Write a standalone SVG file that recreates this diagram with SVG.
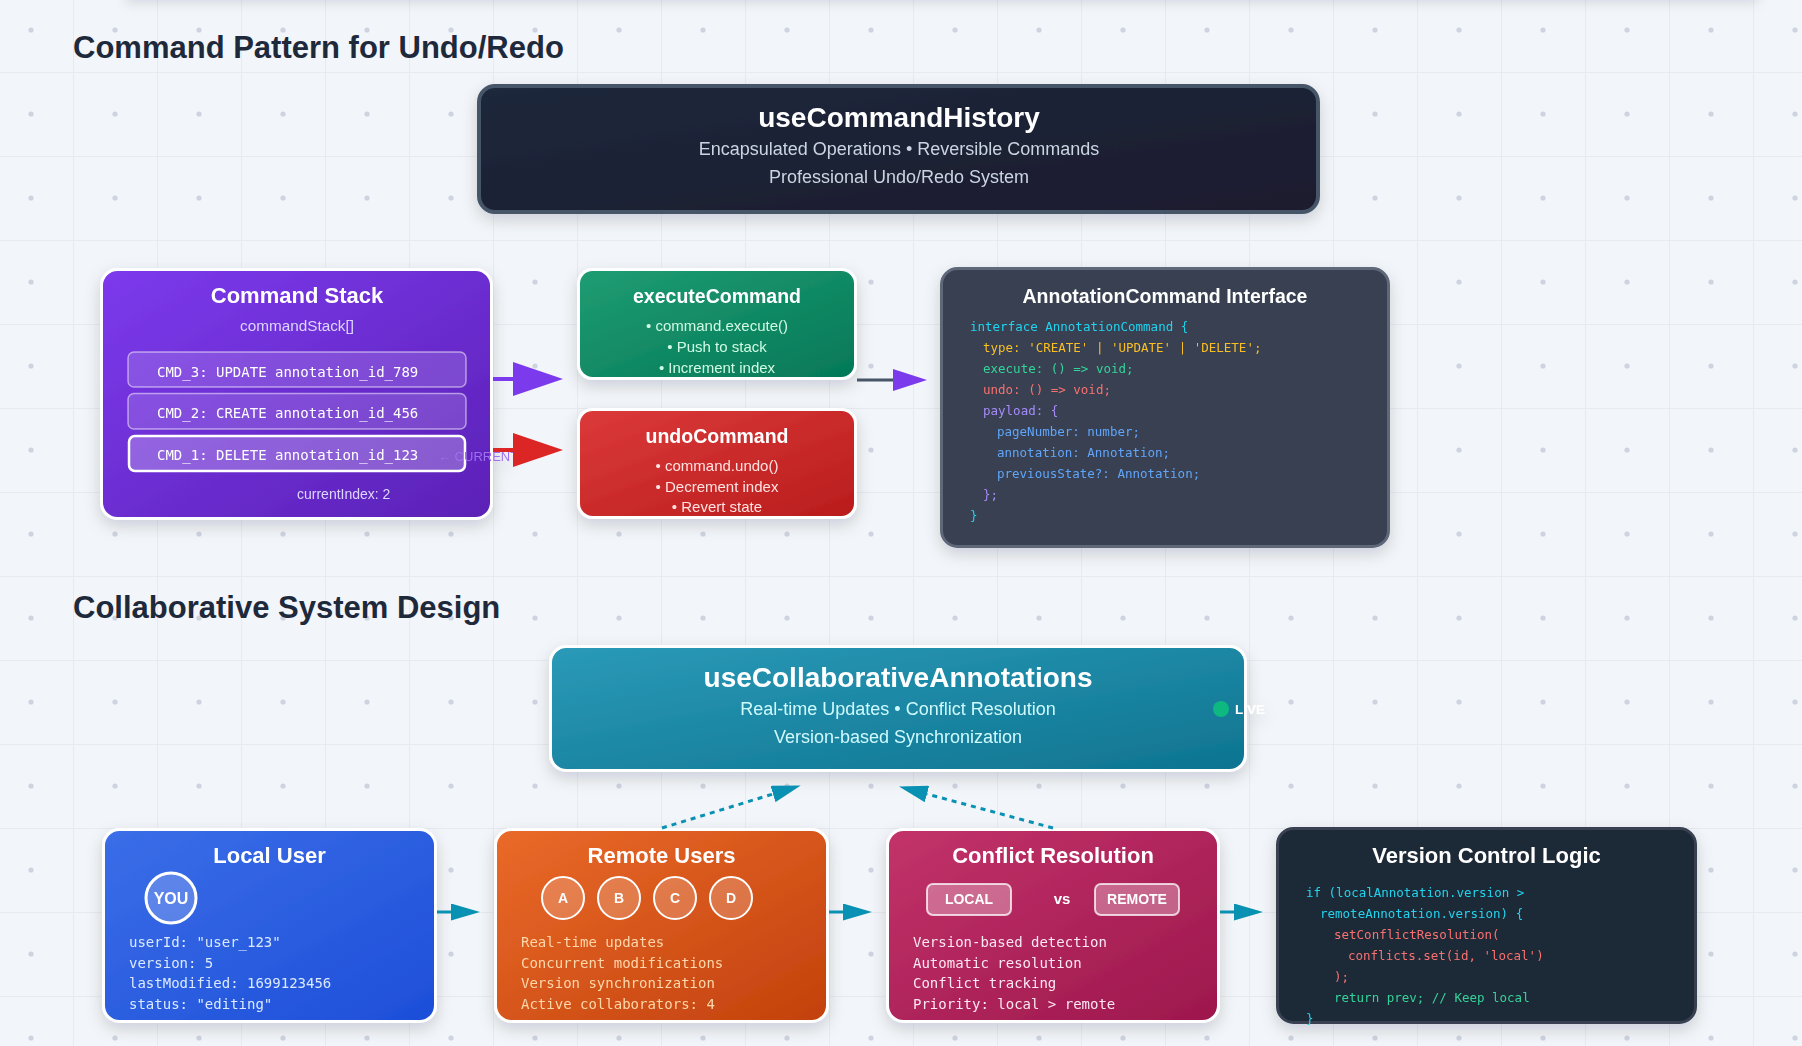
<svg xmlns="http://www.w3.org/2000/svg" width="1802" height="1046" viewBox="0 0 1802 1046">
<defs>
<style>
.sans{font-family:"Liberation Sans",Arial,Helvetica,sans-serif}
.mono{font-family:"DejaVu Sans Mono","Liberation Mono",monospace}
.sec{font-family:"Liberation Sans",Arial,sans-serif;font-size:31px;font-weight:700;fill:#1e293b}
.htitle{font-family:"Liberation Sans",Arial,sans-serif;font-size:28px;font-weight:700;fill:#ffffff;text-anchor:middle}
.hsub{font-family:"Liberation Sans",Arial,sans-serif;font-size:18px;text-anchor:middle}
.ntitle{font-family:"Liberation Sans",Arial,sans-serif;font-size:22px;font-weight:700;fill:#ffffff;text-anchor:middle}
.stitle{font-family:"Liberation Sans",Arial,sans-serif;font-size:19.5px;font-weight:700;fill:#ffffff;text-anchor:middle}
.bullet{font-family:"Liberation Sans",Arial,sans-serif;font-size:15px;text-anchor:middle}
.code{font-family:"DejaVu Sans Mono","Liberation Mono",monospace;font-size:12.5px}
.info{font-family:"DejaVu Sans Mono","Liberation Mono",monospace;font-size:14px}
.row{fill:rgba(255,255,255,0.15);stroke:rgba(255,255,255,0.5);stroke-width:1.5}
.rowtxt{font-family:"DejaVu Sans Mono","Liberation Mono",monospace;font-size:14px;fill:#ffffff}
.avatar{fill:rgba(255,255,255,0.2);stroke:#ffffff;stroke-width:2}
.avtxt{font-family:"Liberation Sans",Arial,sans-serif;font-size:14px;font-weight:700;fill:#ffffff;text-anchor:middle}
.tag{fill:rgba(255,255,255,0.3);stroke:rgba(255,255,255,0.75);stroke-width:2}
.wb{stroke:#ffffff;stroke-width:3}
.teal{stroke:#0891b2;stroke-width:3;fill:none}
</style>
<pattern id="grid" x="-11" y="-12" width="84" height="84" patternUnits="userSpaceOnUse">
<path d="M0.5,0 V84 M0,0.5 H84" stroke="#e7ebf1" stroke-width="1" fill="none"/>
<circle cx="42" cy="42" r="2.6" fill="#cdd4e0"/>
</pattern>
<filter id="shadow" x="-20%" y="-20%" width="140%" height="150%">
<feDropShadow dx="0" dy="6" stdDeviation="8" flood-color="#0f172a" flood-opacity="0.16"/>
</filter>
<filter id="topsh" x="-10%" y="-100%" width="120%" height="400%">
<feDropShadow dx="0" dy="3" stdDeviation="6" flood-color="#0f172a" flood-opacity="0.12"/>
</filter>
<linearGradient id="gHead" x1="0" y1="0" x2="1" y2="1"><stop offset="0" stop-color="#1e293b"/><stop offset="1" stop-color="#1a1a2e"/></linearGradient>
<linearGradient id="gPurple" x1="0" y1="0" x2="1" y2="1"><stop offset="0" stop-color="#7c3aed"/><stop offset="1" stop-color="#5b21b6"/></linearGradient>
<linearGradient id="gGreen" x1="0" y1="0" x2="1" y2="1"><stop offset="0" stop-color="#1f9d72"/><stop offset="1" stop-color="#047857"/></linearGradient>
<linearGradient id="gRed" x1="0" y1="0" x2="1" y2="1"><stop offset="0" stop-color="#dc3a3a"/><stop offset="1" stop-color="#b91c1c"/></linearGradient>
<linearGradient id="gTeal" x1="0" y1="0" x2="1" y2="1"><stop offset="0" stop-color="#2a9ab8"/><stop offset="1" stop-color="#0e7490"/></linearGradient>
<linearGradient id="gBlue" x1="0" y1="0" x2="1" y2="1"><stop offset="0" stop-color="#3b6ee8"/><stop offset="1" stop-color="#1d4ed8"/></linearGradient>
<linearGradient id="gOrange" x1="0" y1="0" x2="1" y2="1"><stop offset="0" stop-color="#ea6a2a"/><stop offset="1" stop-color="#c2410c"/></linearGradient>
<linearGradient id="gPink" x1="0" y1="0" x2="1" y2="1"><stop offset="0" stop-color="#c2336a"/><stop offset="1" stop-color="#9d174d"/></linearGradient>
<marker id="mPurple" markerUnits="userSpaceOnUse" markerWidth="50" markerHeight="34" refX="0" refY="17" orient="auto"><path d="M0,0 L50,17 L0,34 z" fill="#7c3aed"/></marker>
<marker id="mRed" markerUnits="userSpaceOnUse" markerWidth="50" markerHeight="34" refX="0" refY="17" orient="auto"><path d="M0,0 L50,17 L0,34 z" fill="#dc2626"/></marker>
<marker id="mPurpleS" markerUnits="userSpaceOnUse" markerWidth="34" markerHeight="22" refX="0" refY="11" orient="auto"><path d="M0,0 L34,11 L0,22 z" fill="#7c3aed"/></marker>
<marker id="mTeal" markerUnits="userSpaceOnUse" markerWidth="29" markerHeight="17" refX="0" refY="8.5" orient="auto"><path d="M0,0 L29,8.5 L0,17 z" fill="#0891b2"/></marker>
</defs>

<rect x="0" y="0" width="1802" height="1046" fill="#f2f5f9"/>
<rect x="0" y="0" width="1802" height="1046" fill="url(#grid)"/>
<rect x="126" y="-40" width="1632" height="40" fill="#f2f5f9" filter="url(#topsh)"/>

<text class="sec" x="73" y="58">Command Pattern for Undo/Redo</text>
<text class="sec" x="73" y="618">Collaborative System Design</text>

<g id="useCommandHistory" filter="url(#shadow)">
<rect x="479" y="86" width="839" height="126" rx="16" fill="url(#gHead)" stroke="#475569" stroke-width="4"/>
<text class="htitle" x="899" y="127">useCommandHistory</text>
<text class="hsub" x="899" y="155" fill="#cbd5e1">Encapsulated Operations • Reversible Commands</text>
<text class="hsub" x="899" y="183" fill="#cbd5e1">Professional Undo/Redo System</text>
</g>

<g id="commandStack" filter="url(#shadow)">
<rect x="101.5" y="269.5" width="390" height="249" rx="16" fill="url(#gPurple)" class="wb"/>
<text class="ntitle" x="297" y="303">Command Stack</text>
<text class="sans" x="297" y="331" font-size="15.3" fill="#ddd6fe" text-anchor="middle">commandStack[]</text>
<rect class="row" x="128" y="352" width="338" height="35" rx="6"/>
<text class="rowtxt" x="157" y="377">CMD_3: UPDATE annotation_id_789</text>
<rect class="row" x="128" y="393.5" width="338" height="35.5" rx="6"/>
<text class="rowtxt" x="157" y="418">CMD_2: CREATE annotation_id_456</text>
<rect x="129" y="436" width="336" height="35" rx="6" fill="rgba(255,255,255,0.25)" stroke="#ffffff" stroke-width="2.5"/>
<text class="rowtxt" x="157" y="460">CMD_1: DELETE annotation_id_123</text>
<text class="sans" x="438" y="461" font-size="13" fill="#9f6ff0">← CURRENT</text>
<text class="sans" x="297" y="499" font-size="14" fill="#ddd6fe">currentIndex: 2</text>
</g>

<g id="executeCommand" filter="url(#shadow)">
<rect x="578.5" y="269.5" width="277" height="109" rx="14" fill="url(#gGreen)" class="wb"/>
<text class="stitle" x="717" y="303">executeCommand</text>
<text class="bullet" x="717" y="331" fill="#d1fae5">• command.execute()</text>
<text class="bullet" x="717" y="352" fill="#d1fae5">• Push to stack</text>
<text class="bullet" x="717" y="373" fill="#d1fae5">• Increment index</text>
</g>

<g id="undoCommand" filter="url(#shadow)">
<rect x="578.5" y="409.5" width="277" height="108" rx="14" fill="url(#gRed)" class="wb"/>
<text class="stitle" x="717" y="443">undoCommand</text>
<text class="bullet" x="717" y="471" fill="#fee2e2">• command.undo()</text>
<text class="bullet" x="717" y="492" fill="#fee2e2">• Decrement index</text>
<text class="bullet" x="717" y="512" fill="#fee2e2">• Revert state</text>
</g>

<g id="annotationCommandInterface" filter="url(#shadow)">
<rect x="941.5" y="268.5" width="447" height="278" rx="16" fill="#374151" stroke="#5f6878" stroke-width="3"/>
<text class="stitle" x="1165" y="303">AnnotationCommand Interface</text>
<text class="code" x="970" y="331" fill="#22d3ee">interface AnnotationCommand {</text>
<text class="code" x="983" y="352" fill="#fbbf24">type: 'CREATE' | 'UPDATE' | 'DELETE';</text>
<text class="code" x="983" y="373" fill="#34d399">execute: () =&gt; void;</text>
<text class="code" x="983" y="394" fill="#f87171">undo: () =&gt; void;</text>
<text class="code" x="983" y="415" fill="#a78bfa">payload: {</text>
<text class="code" x="997" y="436" fill="#60a5fa">pageNumber: number;</text>
<text class="code" x="997" y="457" fill="#60a5fa">annotation: Annotation;</text>
<text class="code" x="997" y="478" fill="#60a5fa">previousState?: Annotation;</text>
<text class="code" x="983" y="499" fill="#a78bfa">};</text>
<text class="code" x="970" y="520" fill="#22d3ee">}</text>
</g>

<g id="useCollaborativeAnnotations" filter="url(#shadow)">
<rect x="550.5" y="646.5" width="695" height="124" rx="16" fill="url(#gTeal)" class="wb"/>
<text class="htitle" x="898" y="687">useCollaborativeAnnotations</text>
<text class="hsub" x="898" y="715" fill="#cffafe">Real-time Updates • Conflict Resolution</text>
<text class="hsub" x="898" y="743" fill="#cffafe">Version-based Synchronization</text>
<circle cx="1221" cy="709" r="8" fill="#10b981"/>
<text class="sans" x="1235" y="714" font-size="13.5" font-weight="700" fill="#ffffff">LIVE</text>
</g>

<g id="localUser" filter="url(#shadow)">
<rect x="103.5" y="829.5" width="332" height="192" rx="16" fill="url(#gBlue)" class="wb"/>
<text class="ntitle" x="269.5" y="863">Local User</text>
<circle cx="171" cy="898" r="25" fill="rgba(255,255,255,0.2)" stroke="#ffffff" stroke-width="3"/>
<text class="sans" x="171" y="904" font-size="16" font-weight="700" fill="#ffffff" text-anchor="middle">YOU</text>
<text class="info" x="129" y="947" fill="#dbeafe">userId: "user_123"</text>
<text class="info" x="129" y="968" fill="#dbeafe">version: 5</text>
<text class="info" x="129" y="988" fill="#dbeafe">lastModified: 1699123456</text>
<text class="info" x="129" y="1009" fill="#dbeafe">status: "editing"</text>
</g>

<g id="remoteUsers" filter="url(#shadow)">
<rect x="495.5" y="829.5" width="332" height="192" rx="16" fill="url(#gOrange)" class="wb"/>
<text class="ntitle" x="661.5" y="863">Remote Users</text>
<circle class="avatar" cx="563" cy="898" r="21"/><text class="avtxt" x="563" y="903">A</text>
<circle class="avatar" cx="619" cy="898" r="21"/><text class="avtxt" x="619" y="903">B</text>
<circle class="avatar" cx="675" cy="898" r="21"/><text class="avtxt" x="675" y="903">C</text>
<circle class="avatar" cx="731" cy="898" r="21"/><text class="avtxt" x="731" y="903">D</text>
<text class="info" x="521" y="947" fill="#fed7aa">Real-time updates</text>
<text class="info" x="521" y="968" fill="#fed7aa">Concurrent modifications</text>
<text class="info" x="521" y="988" fill="#fed7aa">Version synchronization</text>
<text class="info" x="521" y="1009" fill="#fed7aa">Active collaborators: 4</text>
</g>

<g id="conflictResolution" filter="url(#shadow)">
<rect x="887.5" y="829.5" width="331" height="192" rx="16" fill="url(#gPink)" class="wb"/>
<text class="ntitle" x="1053" y="863">Conflict Resolution</text>
<rect class="tag" x="927" y="884" width="84" height="31" rx="6"/>
<text class="avtxt" x="969" y="904">LOCAL</text>
<text class="sans" x="1062" y="904" font-size="15" font-weight="700" fill="#ffffff" text-anchor="middle">vs</text>
<rect class="tag" x="1095" y="884" width="84" height="31" rx="6"/>
<text class="avtxt" x="1137" y="904">REMOTE</text>
<text class="info" x="913" y="947" fill="#fce7f3">Version-based detection</text>
<text class="info" x="913" y="968" fill="#fce7f3">Automatic resolution</text>
<text class="info" x="913" y="988" fill="#fce7f3">Conflict tracking</text>
<text class="info" x="913" y="1009" fill="#fce7f3">Priority: local &gt; remote</text>
</g>

<g id="versionControlLogic" filter="url(#shadow)">
<rect x="1277.5" y="828.5" width="418" height="194" rx="16" fill="#1f2937" stroke="#374151" stroke-width="3"/>
<text class="ntitle" x="1486.5" y="863">Version Control Logic</text>
<text class="code" x="1306" y="897" fill="#22d3ee">if (localAnnotation.version &gt;</text>
<text class="code" x="1320" y="918" fill="#22d3ee">remoteAnnotation.version) {</text>
<text class="code" x="1334" y="939" fill="#f87171">setConflictResolution(</text>
<text class="code" x="1348" y="960" fill="#f87171">conflicts.set(id, 'local')</text>
<text class="code" x="1334" y="981" fill="#f87171">);</text>
<text class="code" x="1334" y="1002" fill="#34d399">return prev; // Keep local</text>
<text class="code" x="1306" y="1023" fill="#22d3ee">}</text>
</g>

<g id="connectors">
<path d="M493,379 L513,379" stroke="#7c3aed" stroke-width="4" fill="none" marker-end="url(#mPurple)"/>
<path d="M493,450 L513,450" stroke="#dc2626" stroke-width="4" fill="none" marker-end="url(#mRed)"/>
<path d="M857,380 L893,380" stroke="#475569" stroke-width="3" fill="none" marker-end="url(#mPurpleS)"/>
<path class="teal" d="M437,912 L451,912" marker-end="url(#mTeal)"/>
<path class="teal" d="M829,912 L843,912" marker-end="url(#mTeal)"/>
<path class="teal" d="M1220,912 L1234,912" marker-end="url(#mTeal)"/>
<path class="teal" d="M662,828 L773,794" stroke-dasharray="5,5" marker-end="url(#mTeal)"/>
<path class="teal" d="M1053,828 L927,794" stroke-dasharray="5,5" marker-end="url(#mTeal)"/>
</g>
</svg>
